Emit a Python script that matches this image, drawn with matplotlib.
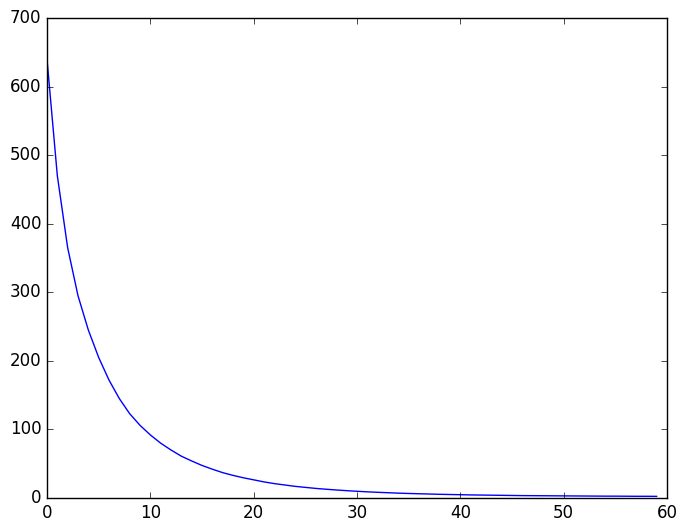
import numpy as np
import matplotlib
matplotlib.use('Agg')
import matplotlib.pyplot as plt

# values, one per step
steps = np.arange(60)
values = [640, 470, 365, 295, 245, 205, 172, 145, 123, 106,
          92, 80, 70, 61, 54, 47.5, 42, 37, 33, 29.5,
          26.5, 23.5, 21, 19, 17, 15.5, 14, 12.8, 11.7, 10.7,
          9.8, 9.0, 8.3, 7.7, 7.1, 6.6, 6.2, 5.8, 5.4, 5.1,
          4.8, 4.5, 4.3, 4.1, 3.9, 3.7, 3.5, 3.4, 3.3, 3.2,
          3.1, 3.0, 2.9, 2.8, 2.7, 2.7, 2.6, 2.5, 2.5, 2.4]

plt.style.use('classic')
fig = plt.figure(figsize=(6.88, 5.32), dpi=100, facecolor='white')
ax = fig.add_axes([0.0683, 0.0639, 0.9012, 0.9023])
ax.plot(steps, values, color='b', linewidth=1)
ax.set_xlim(0, 60)
ax.set_ylim(0, 700)
fig.savefig('out.png', dpi=100, facecolor='white')
